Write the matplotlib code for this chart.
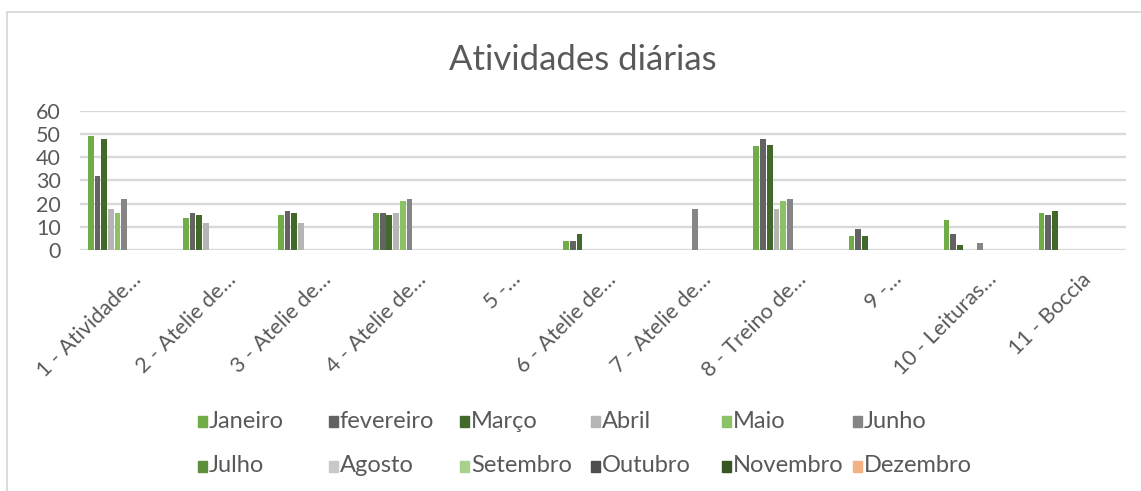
import matplotlib.pyplot as plt
import matplotlib.transforms as mtransforms
from matplotlib.patches import Rectangle
import numpy as np

plt.rcParams['font.family'] = ['Lato', 'DejaVu Sans']

categories = ["1 - Atividade…", "2 - Atelie de…", "3 - Atelie de…", "4 - Atelie de…",
              "5 -…", "6 - Atelie de…", "7 - Atelie de…", "8 - Treino de…",
              "9 -…", "10 - Leituras…", "11 - Boccia"]

months = ["Janeiro", "fevereiro", "Março", "Abril", "Maio", "Junho",
          "Julho", "Agosto", "Setembro", "Outubro", "Novembro", "Dezembro"]

janeiro = [49, 14, 15, 16, 0, 4, 0, 45, 6, 13, 16]
fevereiro = [32, 16, 17, 16, 0, 4, 0, 48, 9, 7, 15]
marco = [48, 15, 16, 15, 0, 7, 0, 45.5, 6, 2, 17]
abril = [17.5, 11.5, 11.5, 16, 0, 0, 0, 17.5, 0, 0, 0]
maio = [16, 0, 0, 21, 0, 0, 0, 21, 0, 0, 0]
junho = [22, 0, 0, 22, 0, 0, 17.5, 22, 0, 3, 0]
julho = [0] * 11
agosto = [0] * 11
setembro = [0] * 11
outubro = [0] * 11
novembro = [0] * 11
dezembro = [0] * 11

series = [janeiro, fevereiro, marco, abril, maio, junho,
          julho, agosto, setembro, outubro, novembro, dezembro]

colors = ["#70AD47", "#636363", "#43682B", "#B5B5B5", "#8CC168", "#858585",
          "#5E8E3E", "#C9C9C9", "#A9D18E", "#4E4E4E", "#375623", "#F4B183"]

W, H = 1141, 491
fig = plt.figure(figsize=(W / 100, H / 100), dpi=100)
ax = fig.add_axes([80 / W, 1 - 250 / H, 1046 / W, 139 / H])

x = np.arange(len(categories))
n = len(series)
slot = 1 / (n + 2.19)
for i, (vals, c) in enumerate(zip(series, colors)):
    ax.bar(x + (i - (n - 1) / 2) * slot, vals, width=slot * 0.86, color=c, zorder=3)

ax.set_xlim(-0.5, len(categories) - 0.5)
ax.set_ylim(0, 60)
ax.set_yticks(range(0, 61, 10))
ax.grid(axis='y', color='#D9D9D9', linewidth=1.7, zorder=0)
for s in ax.spines.values():
    s.set_visible(False)
ax.tick_params(axis='both', length=0, colors='#595959')
ax.tick_params(axis='y', pad=14, labelsize=15.5)
ax.set_xticks(x)
ax.set_xticklabels(categories, rotation=45, ha='right', va='center',
                   rotation_mode='anchor', fontsize=15.5)
ax.tick_params(axis='x', pad=19)
offset = mtransforms.ScaledTranslation(10 / 100, 0, fig.dpi_scale_trans)
for lbl in ax.get_xticklabels():
    lbl.set_transform(lbl.get_transform() + offset)

fig.text(583 / W, 1 - 60 / H, "Atividades diárias", ha='center', va='center',
         fontsize=25, color='#595959')

# legend laid out like Excel: 6 equal columns, 2 rows
for i, (name, c) in enumerate(zip(months, colors)):
    row, col = divmod(i, 6)
    lx = 198 + col * 131
    ly = 421 + row * 45
    fig.patches.append(Rectangle((lx / W, 1 - (ly + 6) / H), 9 / W, 11 / H,
                                 transform=fig.transFigure, color=c))
    fig.text((lx + 11) / W, 1 - ly / H, name, ha='left', va='center',
             fontsize=17, color='#595959')

# chart border
fig.patches.append(Rectangle((7 / W, -0.05), 1.1, 1 - 12 / H + 0.05,
                             transform=fig.transFigure, fill=False,
                             edgecolor='#D9D9D9', linewidth=1.3))

fig.savefig("out.png", dpi=100)
